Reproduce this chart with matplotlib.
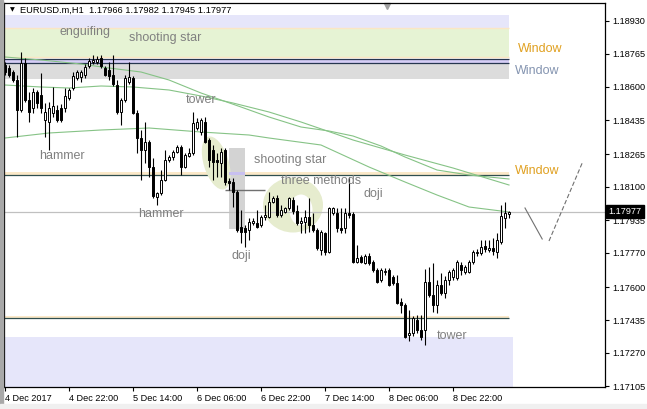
import numpy as np
import matplotlib.pyplot as plt
from matplotlib.patches import Rectangle, Ellipse
from matplotlib.transforms import ScaledTranslation, blended_transform_factory

plt.rcParams['font.family'] = ['Liberation Sans', 'DejaVu Sans']

# EURUSD H1 candles (open, high, low, close)
opens = [1.18710, 1.18695, 1.18675, 1.18635, 1.18485, 1.18720, 1.18535, 1.18495, 1.18575, 1.18560,
         1.18435, 1.18425, 1.18470, 1.18485, 1.18495, 1.18495, 1.18545, 1.18595, 1.18645, 1.18650,
         1.18660, 1.18705, 1.18725, 1.18725, 1.18745, 1.18695, 1.18685, 1.18660, 1.18610, 1.18475,
         1.18535, 1.18625, 1.18645, 1.18470, 1.18345, 1.18285, 1.18325, 1.18200, 1.18050, 1.18070,
         1.18135, 1.18235, 1.18250, 1.18275, 1.18300, 1.18200, 1.18255, 1.18270, 1.18395, 1.18375,
         1.18425, 1.18335, 1.18285, 1.18235, 1.18220, 1.18285, 1.18130, 1.18125, 1.18075, 1.17900,
         1.17895, 1.17885, 1.17920, 1.17920, 1.17910, 1.17950, 1.17950, 1.18025, 1.18045, 1.17960,
         1.17975, 1.17995, 1.18035, 1.17980, 1.17920, 1.17925, 1.17950, 1.17910, 1.17885, 1.17785,
         1.17870, 1.17775, 1.17970, 1.17970, 1.17895, 1.17895, 1.17970, 1.17965, 1.17725, 1.17750,
         1.17720, 1.17755, 1.17725, 1.17685, 1.17635, 1.17675, 1.17685, 1.17650, 1.17620, 1.17525,
         1.17510, 1.17360, 1.17370, 1.17435, 1.17385, 1.17385, 1.17625, 1.17560, 1.17510, 1.17610,
         1.17570, 1.17635, 1.17650, 1.17645, 1.17710, 1.17675, 1.17675, 1.17725, 1.17770, 1.17770,
         1.17805, 1.17785, 1.17795, 1.17775, 1.17825, 1.17945, 1.17966]
highs = [1.18725, 1.18710, 1.18685, 1.18660, 1.18775, 1.18745, 1.18575, 1.18595, 1.18585, 1.18670,
         1.18520, 1.18525, 1.18600, 1.18510, 1.18515, 1.18595, 1.18595, 1.18675, 1.18685, 1.18685,
         1.18715, 1.18745, 1.18760, 1.18755, 1.18760, 1.18705, 1.18725, 1.18760, 1.18635, 1.18545,
         1.18660, 1.18725, 1.18655, 1.18485, 1.18385, 1.18425, 1.18335, 1.18245, 1.18075, 1.18185,
         1.18285, 1.18260, 1.18285, 1.18310, 1.18310, 1.18270, 1.18295, 1.18475, 1.18445, 1.18445,
         1.18450, 1.18345, 1.18310, 1.18270, 1.18295, 1.18295, 1.18145, 1.18145, 1.18085, 1.17985,
         1.17910, 1.17945, 1.17945, 1.17985, 1.17960, 1.18010, 1.18075, 1.18055, 1.18060, 1.18010,
         1.18000, 1.18050, 1.18050, 1.18010, 1.17950, 1.17985, 1.18045, 1.17970, 1.17895, 1.17885,
         1.17875, 1.18000, 1.18000, 1.17995, 1.17995, 1.17995, 1.18150, 1.17975, 1.17810, 1.17760,
         1.17765, 1.17770, 1.17735, 1.17695, 1.17695, 1.17695, 1.17695, 1.17660, 1.17660, 1.17545,
         1.17520, 1.17485, 1.17455, 1.17460, 1.17460, 1.17690, 1.17700, 1.17720, 1.17635, 1.17670,
         1.17655, 1.17685, 1.17695, 1.17735, 1.17725, 1.17710, 1.17735, 1.17785, 1.17790, 1.17835,
         1.17835, 1.17835, 1.17845, 1.17870, 1.18010, 1.18025, 1.17982]
lows = [1.18660, 1.18650, 1.18625, 1.18350, 1.18475, 1.18525, 1.18425, 1.18470, 1.18495, 1.18470,
        1.18350, 1.18285, 1.18450, 1.18425, 1.18425, 1.18475, 1.18535, 1.18585, 1.18635, 1.18625,
        1.18645, 1.18695, 1.18715, 1.18715, 1.18695, 1.18655, 1.18635, 1.18605, 1.18465, 1.18410,
        1.18525, 1.18615, 1.18465, 1.18270, 1.18135, 1.18220, 1.18150, 1.18045, 1.18010, 1.18060,
        1.18130, 1.18225, 1.18235, 1.18270, 1.18160, 1.18195, 1.18250, 1.18260, 1.18385, 1.18360,
        1.18320, 1.18200, 1.18135, 1.18150, 1.18150, 1.18110, 1.18085, 1.18000, 1.17875, 1.17820,
        1.17800, 1.17835, 1.17910, 1.17895, 1.17900, 1.17935, 1.17945, 1.18020, 1.17950, 1.17950,
        1.17970, 1.17985, 1.17965, 1.17910, 1.17870, 1.17870, 1.17875, 1.17875, 1.17785, 1.17760,
        1.17760, 1.17770, 1.17960, 1.17875, 1.17870, 1.17870, 1.17945, 1.17720, 1.17720, 1.17720,
        1.17715, 1.17710, 1.17675, 1.17620, 1.17625, 1.17660, 1.17605, 1.17610, 1.17515, 1.17470,
        1.17345, 1.17330, 1.17355, 1.17370, 1.17335, 1.17310, 1.17550, 1.17475, 1.17470, 1.17560,
        1.17545, 1.17610, 1.17635, 1.17635, 1.17660, 1.17665, 1.17670, 1.17715, 1.17755, 1.17760,
        1.17775, 1.17775, 1.17760, 1.17745, 1.17815, 1.17895, 1.17945]
closes = [1.18675, 1.18660, 1.18635, 1.18485, 1.18720, 1.18535, 1.18475, 1.18575, 1.18520, 1.18495,
          1.18475, 1.18495, 1.18505, 1.18435, 1.18435, 1.18555, 1.18585, 1.18655, 1.18675, 1.18675,
          1.18700, 1.18730, 1.18735, 1.18740, 1.18705, 1.18660, 1.18655, 1.18615, 1.18475, 1.18535,
          1.18645, 1.18650, 1.18470, 1.18345, 1.18285, 1.18325, 1.18200, 1.18055, 1.18070, 1.18135,
          1.18235, 1.18250, 1.18275, 1.18300, 1.18200, 1.18260, 1.18270, 1.18420, 1.18425, 1.18435,
          1.18325, 1.18235, 1.18225, 1.18225, 1.18275, 1.18125, 1.18120, 1.18075, 1.17885, 1.17875,
          1.17875, 1.17925, 1.17930, 1.17900, 1.17950, 1.17960, 1.18025, 1.18045, 1.17960, 1.17985,
          1.17995, 1.18045, 1.17980, 1.17920, 1.17930, 1.17950, 1.17910, 1.17885, 1.17795, 1.17875,
          1.17775, 1.17995, 1.17995, 1.17895, 1.17885, 1.17970, 1.17960, 1.17725, 1.17745, 1.17725,
          1.17755, 1.17720, 1.17685, 1.17625, 1.17685, 1.17680, 1.17610, 1.17620, 1.17520, 1.17510,
          1.17350, 1.17370, 1.17445, 1.17385, 1.17350, 1.17625, 1.17560, 1.17510, 1.17610, 1.17570,
          1.17635, 1.17675, 1.17685, 1.17725, 1.17685, 1.17700, 1.17725, 1.17775, 1.17775, 1.17800,
          1.17790, 1.17795, 1.17780, 1.17835, 1.17955, 1.17970, 1.17977]

# moving averages, read at a few bars
ma1_bars = [0, 9, 19, 26, 34, 41, 49, 59, 66, 74, 81, 87, 94, 100, 108, 116, 126]
ma1_vals = [1.18750, 1.18735, 1.18715, 1.18695, 1.18675, 1.18635, 1.18570, 1.18500, 1.18450,
            1.18400, 1.18380, 1.18355, 1.18305, 1.18250, 1.18185, 1.18160, 1.18140]
ma2_bars = [0, 9, 16, 24, 32, 41, 49, 57, 66, 74, 82, 87, 100, 112, 126]
ma2_vals = [1.18610, 1.18600, 1.18595, 1.18605, 1.18600, 1.18585, 1.18555, 1.18520, 1.18475,
            1.18425, 1.18370, 1.18335, 1.18260, 1.18195, 1.18110]
ma3_bars = [0, 11, 24, 36, 49, 61, 66, 79, 91, 100, 108, 116, 126]
ma3_vals = [1.18345, 1.18370, 1.18385, 1.18395, 1.18375, 1.18360, 1.18345, 1.18310, 1.18200,
            1.18125, 1.18060, 1.18000, 1.17975]

y_ticks = [1.18930, 1.18765, 1.18600, 1.18435, 1.18265, 1.18100, 1.17935, 1.17770,
           1.17600, 1.17435, 1.17270, 1.17105]
x_tick_bars = [0, 16, 32, 48, 64, 80, 96, 112]
x_tick_labels = ["4 Dec 2017", "4 Dec 22:00", "5 Dec 14:00", "6 Dec 06:00",
                 "6 Dec 22:00", "7 Dec 14:00", "8 Dec 06:00", "8 Dec 22:00"]

last_price = 1.17977

# pattern labels: (text, bar, price, colour)
labels = [
    ("enguifing", 20, 1.18875, "#808080"),
    ("shooting star", 40, 1.18845, "#808080"),
    ("tower", 49, 1.18535, "#808080"),
    ("hammer", 14.3, 1.18255, "#808080"),
    ("hammer", 39, 1.17965, "#808080"),
    ("shooting star", 71.3, 1.18235, "#808080"),
    ("three methods", 79, 1.18130, "#808080"),
    ("doji", 92, 1.18065, "#808080"),
    ("doji", 59, 1.17755, "#808080"),
    ("tower", 111.8, 1.17355, "#808080"),
    ("Window", 133.8, 1.18790, "#e0a020"),
    ("Window", 133.0, 1.18680, "#8494b0"),
    ("Window", 133.0, 1.18180, "#e0a020"),
]

fig = plt.figure(figsize=(6.47, 4.09), dpi=100)
ax = fig.add_axes([4 / 647, 22 / 409, 601 / 647, 384 / 409])
ax.set_xlim(-0.25, 150)
ax.set_ylim(1.17100, 1.19020)

# window zones
band_end = 126
ax.add_patch(Rectangle((-0.25, 1.18895), band_end + 0.25, 0.00065, color="#e6e6fa", lw=0, zorder=0))
ax.add_patch(Rectangle((-0.25, 1.18750), band_end + 0.25, 0.00145, color="#e6f3d4", lw=0, zorder=0))
ax.add_patch(Rectangle((-0.25, 1.18722), band_end + 0.25, 0.00016, color="#d6cef6", lw=0, zorder=0))
ax.add_patch(Rectangle((-0.25, 1.18640), band_end + 0.25, 0.00080, color="#dcdcdc", lw=0, zorder=0))
ax.hlines([1.18895, 1.18750], -0.25, band_end, color="#fbe6c4", lw=1.0, zorder=0.5)
ax.hlines([1.18740, 1.18720], -0.25, band_end, color="#26364f", lw=0.9, zorder=0.6)

ax.add_patch(Rectangle((-0.25, 1.18160), band_end + 0.25, 0.00016, color="#fbe9c9", lw=0, zorder=0))
ax.hlines(1.18160, -0.25, band_end, color="#2f4f4f", lw=0.9, zorder=0.6)

ax.add_patch(Rectangle((-0.25, 1.17445), band_end + 0.25, 0.00010, color="#fbe9c9", lw=0, zorder=0))
ax.hlines(1.17445, -0.25, band_end, color="#2f4f4f", lw=0.9, zorder=0.6)
ax.add_patch(Rectangle((-0.25, 1.17100), band_end + 1.25, 0.00250, color="#e6e6fa", lw=0, zorder=0))

# highlight boxes and ellipses
ax.add_patch(Rectangle((55.9, 1.17890), 4.1, 0.00405, color="#d3d3d3", lw=0, zorder=0.7))
ax.add_patch(Rectangle((55.9, 1.18160), 4.1, 0.00015, color="#c8c0f0", lw=0, zorder=0.8))
ax.hlines(1.18085, 55, 65, color="#707070", lw=1.0, zorder=0.8)

green = "#e6ecce"
ax.add_patch(Ellipse((0, 0), 0.25, 0.55, angle=17, color=green, lw=0, zorder=0.7,
                     transform=fig.dpi_scale_trans + ScaledTranslation(52.8, 1.18220, ax.transData)))
ax.add_patch(Ellipse((0, 0), 0.60, 0.55, color=green, lw=0, zorder=0.7,
                     transform=fig.dpi_scale_trans + ScaledTranslation(72.0, 1.18010, ax.transData)))
ax.add_patch(Ellipse((0, 0), 0.23, 0.31, color="white", lw=0, zorder=0.75,
                     transform=fig.dpi_scale_trans + ScaledTranslation(74.0, 1.17985, ax.transData)))

# moving averages
for bx, vals in [(ma1_bars, ma1_vals), (ma2_bars, ma2_vals), (ma3_bars, ma3_vals)]:
    ax.plot(bx, vals, color="#86c386", lw=0.8, zorder=1)

# current price line
ax.axhline(last_price, color="#c0c0c0", lw=0.9, zorder=1.2)

# candles
idx = np.arange(len(opens))
for i in idx:
    o, h, l, c = opens[i], highs[i], lows[i], closes[i]
    ax.vlines(i, l, h, color="black", lw=0.8, zorder=3)
    face = "white" if c >= o else "black"
    ax.bar(i, max(abs(c - o), 0.00001), bottom=min(o, c), width=0.55,
           facecolor=face, edgecolor="black", linewidth=0.7, zorder=3.1)

# projected path
ax.plot([130, 134.3], [1.17995, 1.17840], color="#707070", lw=0.8, zorder=2)
ax.plot([136, 144.3], [1.17830, 1.18220], color="#707070", lw=0.8, ls=(0, (4, 2)), zorder=2)

for text, bx, price, col in labels:
    ax.text(bx, price, text, color=col, fontsize=9, ha="center", va="center", zorder=4)

# axes styling
for sp in ax.spines.values():
    sp.set_color("black")
    sp.set_linewidth(0.9)
ax.yaxis.tick_right()
ax.set_yticks(y_ticks)
ax.set_yticklabels([f"{v:.5f}" for v in y_ticks])
ax.tick_params(axis="y", direction="out", length=3, width=0.8, labelsize=6.6, pad=2)
ax.set_xticks(x_tick_bars)
ax.set_xticklabels(x_tick_labels)
ax.tick_params(axis="x", direction="out", length=3, width=0.8, labelsize=6.6, pad=2)
for lbl in ax.get_xticklabels():
    lbl.set_horizontalalignment("left")

# last price tag on the price scale
trans = blended_transform_factory(ax.transAxes, ax.transData)
ax.text(1.006, last_price, f"{last_price:.5f}", transform=trans, color="white", fontsize=6.6,
        ha="left", va="center", zorder=5,
        bbox=dict(boxstyle="square,pad=0.25", facecolor="black", edgecolor="black"))

# header and window chrome
fig.text(10 / 647, 1 - 10 / 409, "\u25bc", fontsize=4.5, va="center", family="DejaVu Sans")
fig.text(20 / 647, 1 - 10 / 409, "EURUSD.m,H1  1.17966 1.17982 1.17945 1.17977",
         fontsize=6.7, va="center", color="black")
ax.plot([(387 - 4) / 601], [1 - 3 / 384], marker="v", ms=4, color="#a0a0a0",
        transform=ax.transAxes, clip_on=False)
fig.patches.append(Rectangle((0, 0), 2.5 / 647, 1, color="#a8a8a8", transform=fig.transFigure))
fig.patches.append(Rectangle((0, 0), 1, 5 / 409, color="#f0f0f0", transform=fig.transFigure))

fig.savefig("out.png", dpi=100)
